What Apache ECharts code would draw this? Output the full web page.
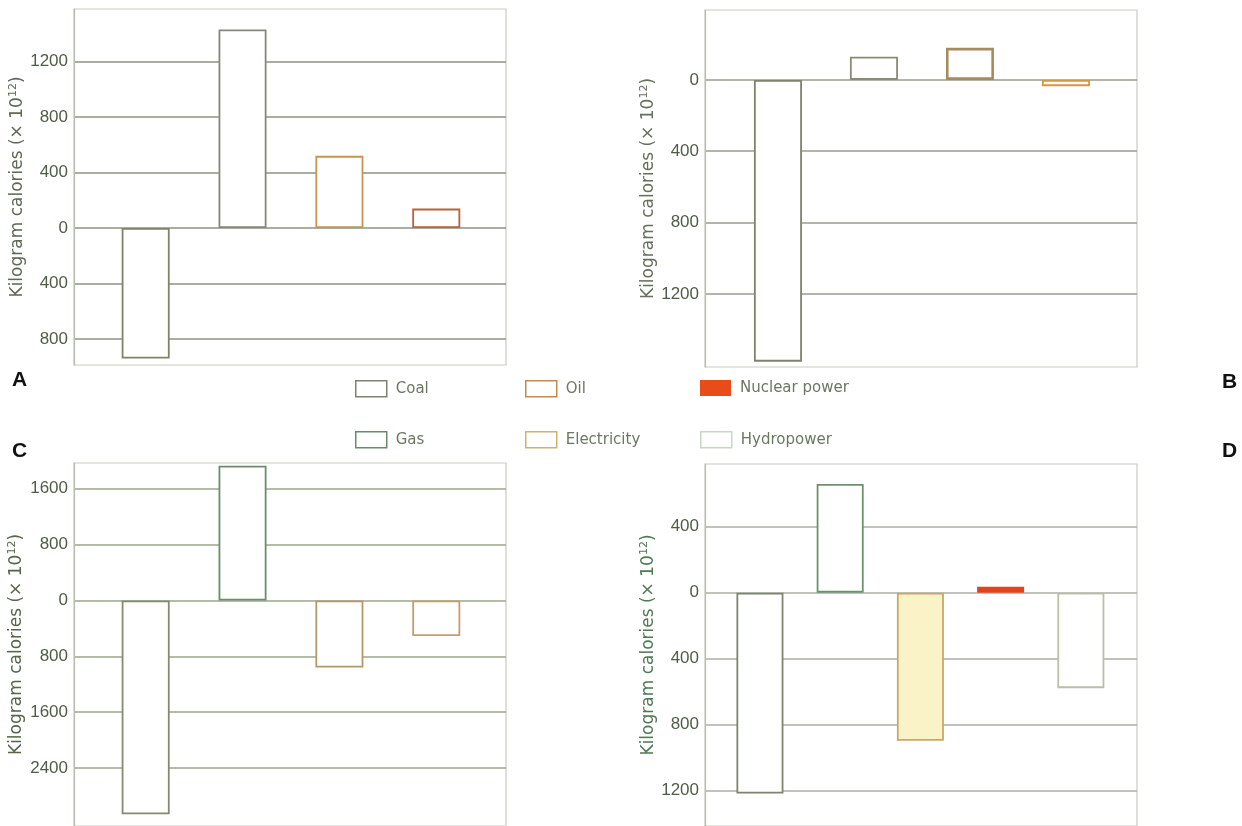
<!DOCTYPE html>
<html>
<head>
<meta charset="utf-8">
<script src="https://cdn.jsdelivr.net/npm/echarts@6/dist/echarts.min.js"></script>
<style>
  html, body { margin: 0; padding: 0; background: #ffffff; }
  #chart { width: 1242px; height: 826px; }
</style>
</head>
<body>
<div id="chart"></div>
<script>
// Net energy flows by fuel, four regions (A–D), in kilogram calories × 10^12
const catA = ['Coal', 'Coal', 'Oil', 'Electricity'];
const valA = [-940, 1430, 520, 140];
const catB = ['Coal', 'Coal', 'Oil', 'Electricity'];
const valB = [-1580, 130, 180, -35];
const catC = ['Coal', 'Gas', 'Oil', 'Electricity'];
const valC = [-3060, 1930, -960, -510];
const catD = ['Coal', 'Gas', 'Electricity', 'Nuclear power', 'Hydropower'];
const valD = [-1220, 660, -900, 35, -580];

const ticksA = [-800, -400, 0, 400, 800, 1200];
const ticksB = [-1200, -800, -400, 0];
const ticksC = [-2400, -1600, -800, 0, 800, 1600];
const ticksD = [-1200, -800, -400, 0, 400];

const legendRow1 = ['Coal', 'Oil', 'Nuclear power'];
const legendRow2 = ['Gas', 'Electricity', 'Hydropower'];

// ---- styling ----
const strokeA = ['#80836c', '#86887a', '#c39650', '#b6623c'];
const strokeB = ['#7f826c', '#8c8c74', '#a68c5c', '#d8963e'];
const strokeC = ['#838c72', '#6c8c6c', '#b09a6a', '#c89c66'];
const strokeD = ['#7e846e', '#6e926e', '#c8a86a', '#e2441a', '#bcbfa6'];
const fillD = ['#ffffff', '#ffffff', '#fbf3c8', '#e2441a', '#ffffff'];
const widthB = [1.8, 1.8, 2.6, 1.8];

const legendStyle = {
  'Coal':          { color: '#ffffff', borderColor: '#7e8270' },
  'Oil':           { color: '#ffffff', borderColor: '#c08a50' },
  'Nuclear power': { color: '#e84c18', borderColor: '#e84c18' },
  'Gas':           { color: '#ffffff', borderColor: '#6a8c6c' },
  'Electricity':   { color: '#ffffff', borderColor: '#d4b070' },
  'Hydropower':    { color: '#ffffff', borderColor: '#c4d8c4' }
};
const legendLeft = [355, 525, 700];
const legendTop = [380, 431];

const panels = [
  { id: 'A', cat: catA, val: valA, ticks: ticksA, stroke: strokeA, fill: null, widths: null,
    grid: { left: 74, top: 9, width: 432, height: 356 }, y: [-987, 1578], x: [-0.74, 3.72],
    gridColor: '#8e9282', nameColor: '#5e6a55', nameGap: 41, barWidth: 48 },
  { id: 'B', cat: catB, val: valB, ticks: ticksB, stroke: strokeB, fill: null, widths: widthB,
    grid: { left: 705, top: 10, width: 432, height: 357 }, y: [-1610, 392], x: [-0.76, 3.74],
    gridColor: '#9a9d8e', nameColor: '#66705c', nameGap: 43, barWidth: 48 },
  { id: 'C', cat: catC, val: valC, ticks: ticksC, stroke: strokeC, fill: null, widths: null,
    grid: { left: 74, top: 463, width: 432, height: 367 }, y: [-3229, 1969], x: [-0.74, 3.72],
    gridColor: '#9aa68c', nameColor: '#56664c', nameGap: 47, barWidth: 48 },
  { id: 'D', cat: catD, val: valD, ticks: ticksD, stroke: strokeD, fill: fillD, widths: null,
    grid: { left: 705, top: 464, width: 432, height: 366 }, y: [-1417, 781], x: [-0.685, 4.70],
    gridColor: '#a9b0a6', nameColor: '#4f7a55', nameGap: 44, barWidth: 47 }
];

const labelColor = '#4f5c47';

const option = {
  backgroundColor: '#ffffff',
  animation: false,
  grid: [],
  xAxis: [],
  yAxis: [],
  series: [],
  legend: [],
  graphic: []
};

panels.forEach((p, i) => {
  option.grid.push(Object.assign({
    show: true, borderColor: '#c9ccc0', borderWidth: 1.2, backgroundColor: 'transparent'
  }, p.grid));

  option.xAxis.push({
    gridIndex: i, type: 'value', min: p.x[0], max: p.x[1],
    axisLine: { show: false }, axisTick: { show: false },
    axisLabel: { show: false }, splitLine: { show: false }
  });

  option.yAxis.push({
    gridIndex: i, type: 'value', min: p.y[0], max: p.y[1],
    name: 'Kilogram calories (× 10{sup|12})',
    nameLocation: 'middle', nameRotate: 90, nameGap: p.nameGap,
    nameTextStyle: {
      fontFamily: 'DejaVu Sans', fontSize: 17, color: p.nameColor,
      rich: { sup: { fontFamily: 'DejaVu Sans', fontSize: 11, color: p.nameColor, verticalAlign: 'top', padding: [0, 0, 9, 0] } }
    },
    axisLine: { show: true, onZero: false, lineStyle: { color: '#b9bcb0', width: 1.2 } },
    axisTick: { show: false, customValues: p.ticks },
    axisLabel: {
      customValues: p.ticks, margin: 6,
      fontFamily: 'Liberation Sans', fontSize: 17, color: labelColor,
      formatter: v => String(Math.abs(v))
    },
    splitLine: { show: true, lineStyle: { color: p.gridColor, width: 1.5 } }
  });

  option.series.push({
    name: 'Panel ' + p.id,
    type: 'bar',
    xAxisIndex: i, yAxisIndex: i,
    barWidth: p.barWidth,
    z: 3,
    data: p.val.map((v, k) => ({
      name: p.cat[k],
      value: [k, v],
      itemStyle: {
        color: p.fill ? p.fill[k] : '#ffffff',
        borderColor: p.stroke[k],
        borderWidth: (p.fill && p.fill[k] === p.stroke[k]) ? 0 : (p.widths ? p.widths[k] : 1.8)
      }
    }))
  });
});

// Separate hidden grid that only carries the fuel key series
option.grid.push({ left: -50, top: -50, width: 10, height: 10, show: false });
option.xAxis.push({ gridIndex: 4, type: 'value', show: false });
option.yAxis.push({ gridIndex: 4, type: 'value', show: false });
legendRow1.concat(legendRow2).forEach(name => {
  option.series.push({ name: name, type: 'bar', xAxisIndex: 4, yAxisIndex: 4, data: [],
    itemStyle: { color: legendStyle[name].color, borderColor: legendStyle[name].borderColor } });
});

[legendRow1, legendRow2].forEach((row, r) => {
  row.forEach((name, c) => {
    option.legend.push({
      data: [{ name: name, icon: 'rect',
        itemStyle: { color: legendStyle[name].color, borderColor: legendStyle[name].borderColor,
          borderWidth: name === 'Nuclear power' ? 0 : 1.5 } }],
      left: legendLeft[c], top: legendTop[r], padding: 0,
      itemWidth: 31, itemHeight: 16, selectedMode: false,
      textStyle: { fontFamily: 'DejaVu Sans', fontSize: 15, color: '#6a7862', padding: [0, 0, 0, 4] }
    });
  });
});

// Panel letters
[['A', 12, 370], ['B', 1222, 372], ['C', 12, 441], ['D', 1222, 441]].forEach(([t, x, y]) => {
  option.graphic.push({
    type: 'text', left: x, top: y,
    style: { text: t, fontFamily: 'Liberation Sans', fontWeight: 'bold', fontSize: 21, fill: '#111111' }
  });
});

const chart = echarts.init(document.getElementById('chart'), null, { renderer: 'canvas' });
chart.setOption(option);
</script>
</body>
</html>
